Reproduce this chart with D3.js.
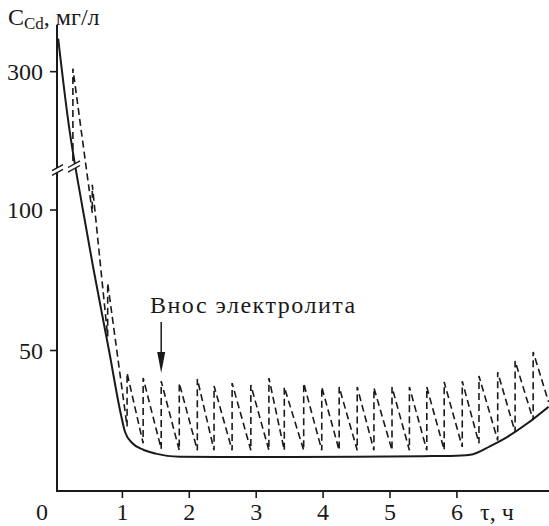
<!DOCTYPE html>
<html>
<head>
<meta charset="utf-8">
<script src="https://cdn.jsdelivr.net/npm/d3@7.9.0/dist/d3.min.js"></script>
<style>
  html, body { margin: 0; padding: 0; background: #fff; }
  svg { display: block; }
  svg text { font-family: 'Liberation Serif', serif !important; }
</style>
</head>
<body>
<svg id="chart" width="549" height="526"></svg>
<script>
// ---- data ----
// solid curve: time (h) and concentration (mg/l)
const solidT = [0.04, 0.19, 0.41, 0.56, 0.8, 0.98, 1.04, 1.15, 1.32, 1.5, 1.67, 1.86, 2.5, 3.5, 4.5, 5.5, 5.9, 6.2, 6.5, 6.75, 7.05, 7.37];
const solidC = [333, 251, 100, 80, 50, 27, 21, 17, 14.6, 13.3, 12.5, 12.2, 12.1, 12.1, 12.2, 12.4, 12.5, 12.9, 16, 19.2, 24, 30];

// dashed sawtooth: moments of electrolyte carry-in, value before jump, value after jump
const jumpT = [0.26, 0.55, 0.78, 1.07, 1.31, 1.58, 1.85, 2.12, 2.37, 2.64, 2.92, 3.19, 3.42, 3.71, 3.98, 4.24, 4.51, 4.76, 5.03, 5.29, 5.55, 5.81, 6.08, 6.33, 6.61, 6.87, 7.14];
const troughC = [211, 99, 55, 23, 17, 15, 14.5, 14.5, 14.5, 14.5, 14.5, 14.5, 14.5, 14.5, 14.5, 14.5, 14.5, 14.5, 14.5, 14.5, 14.5, 14.6, 15.7, 17, 18, 21, 25.3];
const peakC = [303, 109, 74, 42, 40.2, 39.1, 38.4, 39.9, 37.4, 38.4, 37.7, 40.2, 37, 38.4, 37, 37, 37, 36.7, 37, 37, 37, 38.8, 39.1, 40.9, 42.3, 46.3, 49.5];
const dashEnd = { t: 7.37, c: 31.7 };

const xTicks = [1, 2, 3, 4, 5, 6];
const yTicks = [50, 100, 300];

// ---- scales ----
const svg = d3.select('#chart');
const ink = '#1a1a1a';
const font = "'Liberation Serif', serif";

const x = d3.scaleLinear().domain([0, 6]).range([55.5, 456.9]);
// broken axis: lower part 0..113, upper part 200..346
const y = d3.scaleLinear()
  .domain([0, 113, 200, 346])
  .range([491, 173.5, 172, 25.5]);

const axisX = 57, axisY = 491;

// ---- curves ----
const solid = solidT.map((t, i) => [t, solidC[i]]);
svg.append('path')
  .attr('d', d3.line().x((d) => x(d[0])).y((d) => y(d[1])).curve(d3.curveMonotoneX)(solid))
  .attr('fill', 'none')
  .attr('stroke', ink)
  .attr('stroke-width', 2);

const saw = [];
jumpT.forEach((t, i) => {
  saw.push([t, troughC[i]]);
  saw.push([t, peakC[i]]);
});
saw.push([dashEnd.t, dashEnd.c]);

svg.append('path')
  .attr('d', d3.line().x((d) => x(d[0])).y((d) => y(d[1]))(saw))
  .attr('fill', 'none')
  .attr('stroke', ink)
  .attr('stroke-width', 1.6)
  .attr('stroke-dasharray', '7,4');

// ---- axes ----
svg.append('line')
  .attr('x1', axisX).attr('x2', axisX)
  .attr('y1', 25).attr('y2', axisY)
  .attr('stroke', ink).attr('stroke-width', 2);
svg.append('line')
  .attr('x1', axisX - 1).attr('x2', 549)
  .attr('y1', axisY).attr('y2', axisY)
  .attr('stroke', ink).attr('stroke-width', 2);

svg.selectAll('.xtick')
  .data(xTicks)
  .join('line')
  .attr('x1', (d) => x(d)).attr('x2', (d) => x(d))
  .attr('y1', axisY).attr('y2', axisY + 7)
  .attr('stroke', ink).attr('stroke-width', 1.6);

svg.selectAll('.ytick')
  .data(yTicks)
  .join('line')
  .attr('x1', axisX - 7).attr('x2', axisX)
  .attr('y1', (d) => y(d)).attr('y2', (d) => y(d))
  .attr('stroke', ink).attr('stroke-width', 1.6);

function label(px, py, str, size, anchor) {
  return svg.append('text')
    .attr('x', px).attr('y', py)
    .attr('text-anchor', anchor || 'start')
    .attr('font-family', font)
    .style('font-family', font, 'important')
    .style('font-size', size + 'px')
    .attr('fill', ink)
    .text(str);
}

xTicks.forEach((d) => label(x(d), 520, d, 24, 'middle'));
label(42, 520, '0', 24, 'middle');
yTicks.forEach((d) => label(43, y(d) + 8, d, 24, 'end'));

// ---- axis break marks ----
function drawBreak(cx, cy, w) {
  const s = 0.55, g = 2.3;
  const dx = w / 2, dy = dx * s;
  svg.append('polygon')
    .attr('points', [
      [cx - dx, cy + dy - g], [cx + dx, cy - dy - g],
      [cx + dx, cy - dy + g], [cx - dx, cy + dy + g]
    ].map((p) => p.join(',')).join(' '))
    .attr('fill', '#fff');
  [-g, g].forEach((o) => {
    svg.append('line')
      .attr('x1', cx - dx).attr('y1', cy + dy + o)
      .attr('x2', cx + dx).attr('y2', cy - dy + o)
      .attr('stroke', ink).attr('stroke-width', 1.4);
  });
}
drawBreak(axisX + 0.5, 170, 11);
drawBreak(74, 166.5, 12);

// ---- titles ----
const yt = label(8, 25, null, 24);
yt.append('tspan').text('C');
yt.append('tspan').style('font-size', '17px').attr('dy', 4).text('Cd');
yt.append('tspan').attr('dy', -4).text(', мг/л');

label(480, 520, 'τ, ч', 24);

// ---- annotation ----
label(150, 313, 'Внос электролита', 24).style('letter-spacing', '1.5px');

const ax = x(1.58);
svg.append('line')
  .attr('x1', ax).attr('x2', ax)
  .attr('y1', 322).attr('y2', 356)
  .attr('stroke', ink).attr('stroke-width', 1.5);
svg.append('path')
  .attr('d', `M${ax - 4},352 L${ax + 4},352 L${ax},373 Z`)
  .attr('fill', ink);
</script>
</body>
</html>
